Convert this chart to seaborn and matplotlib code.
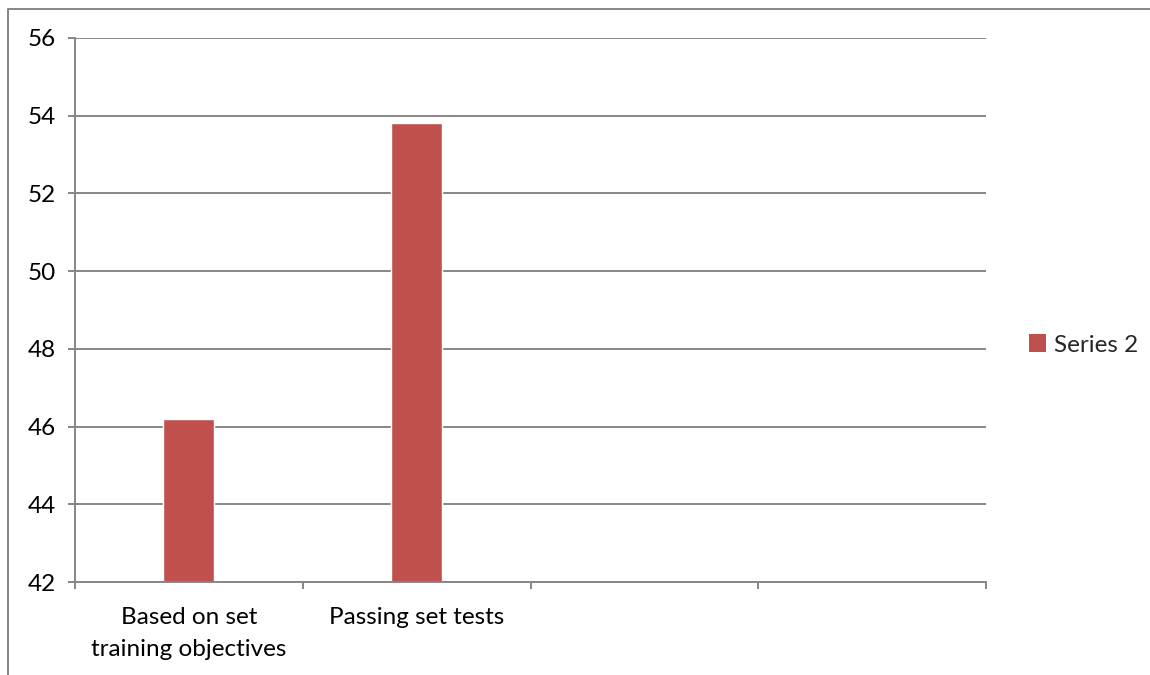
import numpy as np
import pandas as pd
import matplotlib
matplotlib.use("Agg")
import matplotlib.pyplot as plt
from matplotlib.lines import Line2D
from matplotlib.patches import Patch
import seaborn as sns

# Chart data
categories = ["Based on set\ntraining objectives", "Passing set tests"]
slots = categories + ["slot 3", "slot 4"]
tick_labels = ["Based on set\ntraining objectives", "Passing set tests", "", ""]
series_name = "Series 2"
values = [46.2, 53.8]
y_ticks = [42, 44, 46, 48, 50, 52, 54, 56]

bar_color = "#C0504D"
grid_color = "#868686"

sns.set_style("white")
plt.rcParams["font.family"] = ["Lato", "DejaVu Sans"]

df = pd.DataFrame({"category": categories, "value": values})

fig = plt.figure(figsize=(11.5, 6.75), dpi=100)
ax = fig.add_axes([75 / 1150, 1 - 582 / 675, (986 - 75) / 1150, (582 - 38) / 675])

sns.barplot(data=df, x="category", y="value", order=slots, color=bar_color,
            width=0.224, saturation=1, ax=ax, errorbar=None)

ax.set_ylim(42, 56)
ax.set_xlim(-0.5, 3.5)
ax.set_yticks(y_ticks)
ax.set_yticklabels([str(t) for t in y_ticks])
ax.set_xticks(range(len(slots)))
ax.set_xticklabels(tick_labels, linespacing=1.65)
ax.set_xticks(np.arange(-0.5, 4.0, 1.0), minor=True)
ax.set_xlabel("")
ax.set_ylabel("")

ax.yaxis.grid(True, color=grid_color, linewidth=1.4)
ax.set_axisbelow(True)
for side in ["top", "right"]:
    ax.spines[side].set_visible(False)
for side in ["left", "bottom"]:
    ax.spines[side].set_color(grid_color)
    ax.spines[side].set_linewidth(1.4)

ax.tick_params(axis="y", which="major", length=5, width=1.4, color=grid_color,
               direction="out", pad=9, labelsize=17.5, labelcolor="black", left=True)
ax.tick_params(axis="x", which="major", length=0, pad=18, labelsize=17.5, labelcolor="black")
ax.tick_params(axis="x", which="minor", length=5, width=1.4, color=grid_color,
               direction="out", bottom=True)

# Outer chart frame
fx = 8 / 1150
fy = 1 - 9 / 675
fig.add_artist(Line2D([fx, fx, 1.0], [0.0, fy, fy], transform=fig.transFigure,
                      color=grid_color, linewidth=1.4))

handles = [Patch(facecolor=bar_color, edgecolor="none", label=series_name)]
fig.legend(handles=handles, loc="center left", bbox_to_anchor=(1019 / 1150, 1 - 345 / 675),
           frameon=False, fontsize=17.5, handlelength=0.7, handleheight=0.7,
           handletextpad=0.35, borderaxespad=0)

fig.savefig("out.png", dpi=100)
